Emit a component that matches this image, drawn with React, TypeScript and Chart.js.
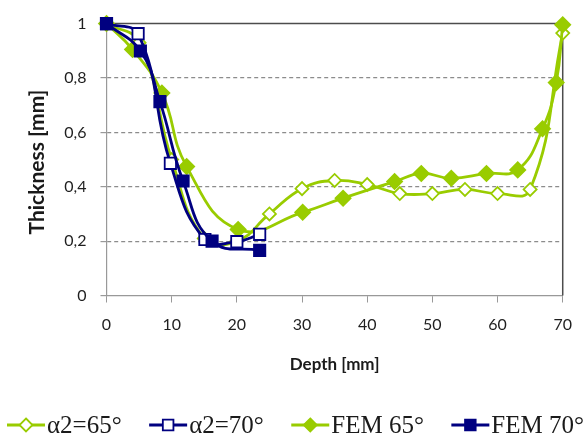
import React, { useEffect, useRef } from 'react';
import { Chart, registerables } from 'chart.js';

Chart.register(...registerables);

// Depth [mm] / Thickness [mm]
const xA65 = [0, 5, 10, 15, 20, 25, 30, 35, 40, 45, 50, 55, 60, 65, 70];
const yA65 = [1, 0.93, 0.5, 0.21, 0.2, 0.3, 0.393, 0.423, 0.408, 0.375, 0.375, 0.39, 0.375, 0.39, 0.965];
const xA70 = [0, 4.85, 9.8, 15.1, 20, 23.5];
const yA70 = [1, 0.963, 0.486, 0.206, 0.198, 0.225];
const xF65 = [0, 4, 8.5, 12.3, 20.2, 30.1, 36.3, 44.2, 48.3, 52.9, 58.3, 63.1, 66.9, 69, 70];
const yF65 = [1, 0.905, 0.745, 0.474, 0.243, 0.306, 0.358, 0.419, 0.449, 0.431, 0.449, 0.462, 0.613, 0.783, 0.996];
const xF70 = [0, 5.2, 8.2, 11.75, 16.2, 23.5];
const yF70 = [1, 0.899, 0.713, 0.421, 0.2, 0.166];

const seriesNames = ['\u03b12=65\u00b0', '\u03b12=70\u00b0', 'FEM 65\u00b0', 'FEM 70\u00b0'];
const xTicks = [0, 10, 20, 30, 40, 50, 60, 70];
const yTicks = [0, 0.2, 0.4, 0.6, 0.8, 1];

const GREEN = '#99cc00';
const NAVY = '#000080';

const toPts = (xs: number[], ys: number[]) => xs.map((x, i) => ({ x, y: ys[i] }));

const styles = [
  { color: GREEN, style: 'rectRot', fill: '#ffffff', r: 6.5 },
  { color: NAVY, style: 'rect', fill: '#ffffff', r: 8 },
  { color: GREEN, style: 'rectRot', fill: GREEN, r: 7.5 },
  { color: NAVY, style: 'rect', fill: NAVY, r: 8 },
];

function drawMarker(ctx: CanvasRenderingContext2D, s: any, x: number, y: number, r: number) {
  ctx.save();
  ctx.beginPath();
  if (s.style === 'rect') {
    const h = r * Math.SQRT1_2;
    ctx.rect(x - h, y - h, 2 * h, 2 * h);
  } else {
    ctx.moveTo(x, y - r);
    ctx.lineTo(x + r, y);
    ctx.lineTo(x, y + r);
    ctx.lineTo(x - r, y);
    ctx.closePath();
  }
  ctx.fillStyle = s.fill;
  ctx.fill();
  ctx.lineWidth = 1.8;
  ctx.strokeStyle = s.color;
  ctx.stroke();
  ctx.restore();
}

const framePlugin = {
  id: 'frame',
  beforeDatasetsDraw(chart: any) {
    const { ctx, chartArea: a } = chart;
    ctx.save();
    ctx.strokeStyle = '#4d4d4d';
    ctx.lineWidth = 1.5;
    ctx.beginPath();
    ctx.moveTo(a.left, a.top);
    ctx.lineTo(a.right, a.top);
    ctx.lineTo(a.right, a.bottom);
    ctx.stroke();
    ctx.restore();
  },
  afterDraw(chart: any) {
    const ctx: CanvasRenderingContext2D = chart.ctx;
    ctx.save();
    ctx.font = '25px "Liberation Serif", "Times New Roman", serif';
    const lineW = 38;
    const gapText = 2;
    const widths = seriesNames.map((n) => ctx.measureText(n).width);
    const startX = 7;
    const endX = 584;
    const total = widths.reduce((a, b) => a + b, 0) + 4 * (lineW + gapText);
    const gap = (endX - startX - total) / 3;
    let x = startX;
    const y = 425;
    seriesNames.forEach((name, i) => {
      const s = styles[i];
      ctx.strokeStyle = s.color;
      ctx.lineWidth = 3;
      ctx.beginPath();
      ctx.moveTo(x, y);
      ctx.lineTo(x + lineW, y);
      ctx.stroke();
      drawMarker(ctx, s, x + lineW / 2, y, s.style === 'rect' ? 7.5 : 6.5);
      ctx.fillStyle = '#1a1a1a';
      ctx.textBaseline = 'middle';
      ctx.textAlign = 'left';
      ctx.fillText(name, x + lineW + gapText, y + 1);
      x += lineW + gapText + widths[i] + gap;
    });
    ctx.restore();
  },
};

export default function App() {
  const ref = useRef<HTMLCanvasElement>(null);
  useEffect(() => {
    if (!ref.current) return;
    const data = [toPts(xA65, yA65), toPts(xA70, yA70), toPts(xF65, yF65), toPts(xF70, yF70)];
    const orders = [4, 2, 3, 1];
    const chart = new Chart(ref.current, {
      type: 'line',
      data: {
        datasets: data.map((d, i) => ({
          label: seriesNames[i],
          data: d,
          borderColor: styles[i].color,
          borderWidth: 2.8,
          backgroundColor: styles[i].fill,
          pointStyle: styles[i].style as any,
          pointRadius: styles[i].r,
          pointBorderWidth: 1.8,
          pointBorderColor: styles[i].color,
          pointBackgroundColor: styles[i].fill,
          tension: 0.45,
          fill: false,
          clip: false as any,
          order: orders[i],
        })),
      },
      options: {
        responsive: false,
        animation: false,
        devicePixelRatio: 1,
        layout: { padding: { left: 0, right: 21.5, top: 20.5, bottom: 60 } },
        plugins: { legend: { display: false }, tooltip: { enabled: false } },
        scales: {
          x: {
            type: 'linear',
            min: 0,
            max: 70,
            afterBuildTicks: (s: any) => {
              s.ticks = xTicks.map((v) => ({ value: v }));
            },
            afterFit: (s: any) => {
              s.height = 82.5;
            },
            ticks: {
              padding: 13,
              color: '#1f1f1f',
              font: { family: 'Lato', size: 16 },
              maxRotation: 0,
            },
            grid: {
              drawOnChartArea: false,
              drawTicks: true,
              tickLength: 7,
              tickColor: '#999999',
            },
            border: { display: true, color: '#999999', width: 1.2 },
            title: {
              display: true,
              text: 'Depth [mm]',
              color: '#1a1a1a',
              font: { family: 'Lato', size: 17, weight: 'bold' },
              padding: { top: 0, bottom: 3 },
            },
          },
          y: {
            type: 'linear',
            min: 0,
            max: 1,
            afterBuildTicks: (s: any) => {
              s.ticks = yTicks.map((v) => ({ value: v }));
            },
            afterFit: (s: any) => {
              s.width = 106.5;
            },
            ticks: {
              padding: 14,
              color: '#1f1f1f',
              font: { family: 'Lato', size: 16 },
              callback: (v: any) => String(Math.round(Number(v) * 10) / 10).replace('.', ','),
            },
            grid: {
              drawOnChartArea: true,
              drawTicks: true,
              tickLength: 6,
              tickColor: '#999999',
              lineWidth: 1.2,
              color: (c: any) =>
                c.tick && c.tick.value > 0.01 && c.tick.value < 0.99 ? '#8c8c8c' : 'rgba(0,0,0,0)',
            },
            border: { display: true, color: '#999999', width: 1.2, dash: [4, 3] },
            title: {
              display: true,
              text: 'Thickness [mm] ',
              color: '#1a1a1a',
              font: { family: 'Lato', size: 21, weight: 'bold' },
              padding: { top: 25, bottom: 0 },
            },
          },
        },
      },
      plugins: [framePlugin],
    } as any);
    return () => chart.destroy();
  }, []);
  return (
    <div style={{ position: 'absolute', left: 0, top: 0, width: 585, height: 438, background: '#fff' }}>
      <canvas ref={ref} width={585} height={438} style={{ display: 'block' }} />
    </div>
  );
}
